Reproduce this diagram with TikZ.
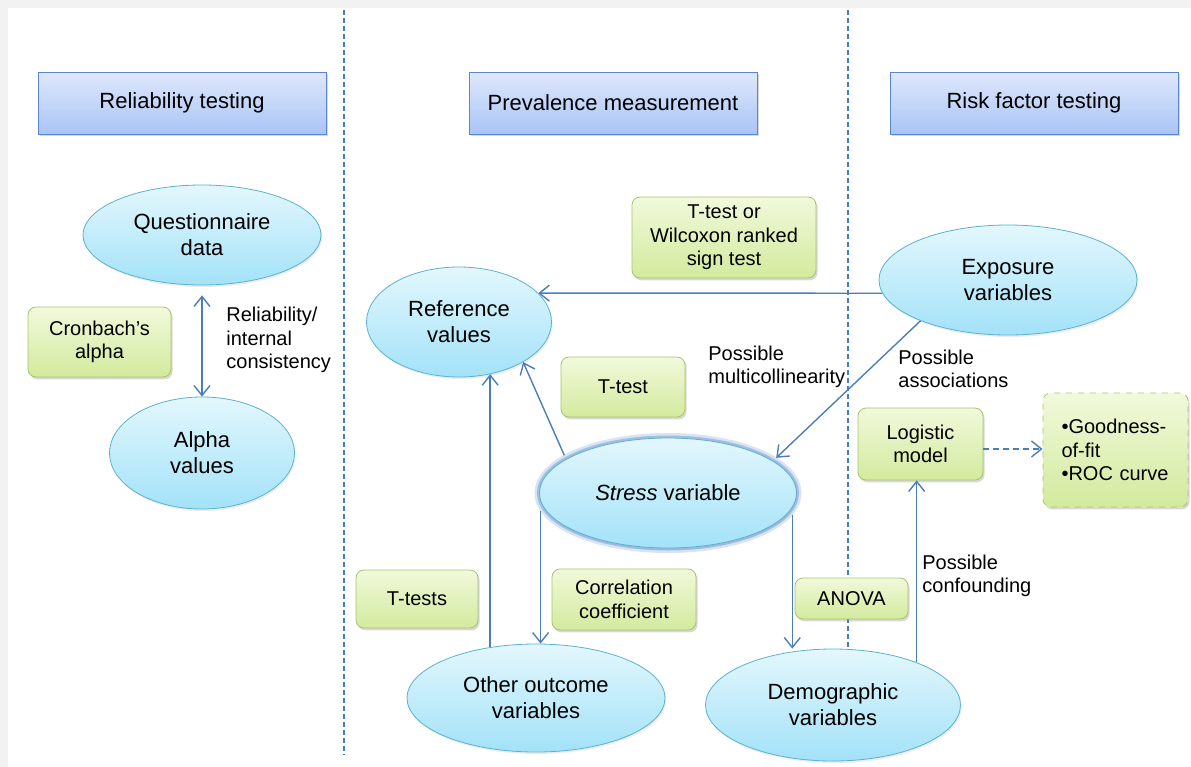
\documentclass[tikz,border=0pt]{standalone}
\usepackage{fontspec}
\setmainfont{Liberation Sans}
\usetikzlibrary{shapes.geometric,shadows,arrows.meta}

\definecolor{headtop}{HTML}{DFE8FC}
\definecolor{headbot}{HTML}{A9C4F6}
\definecolor{headline}{HTML}{5A86D0}
\definecolor{ovaltop}{HTML}{E3F7FD}
\definecolor{ovalbot}{HTML}{A3E2F8}
\definecolor{ovalline}{HTML}{5CB2CD}
\definecolor{grntop}{HTML}{F1F9DB}
\definecolor{grnbot}{HTML}{D3EA9D}
\definecolor{grnline}{HTML}{A6C46E}
\definecolor{linkblue}{HTML}{4A7EBB}
\definecolor{glowblue}{HTML}{7FA6D9}

\newcommand{\hdfont}{\fontsize{11}{13}\selectfont}
\newcommand{\lbfont}{\fontsize{10}{11.8}\selectfont}

\begin{document}
\begin{tikzpicture}[x=0.5pt,y=-0.5pt,
    >={Straight Barb[length=5pt,width=8pt]},
    head/.style={draw=headline, top color=headtop, bottom color=headbot,
      minimum width=144pt, minimum height=31pt, font=\hdfont,
      drop shadow={opacity=0.3, shadow xshift=0.8pt, shadow yshift=-1.2pt}},
    oval/.style={ellipse, draw=ovalline, top color=ovaltop, bottom color=ovalbot,
      align=center, inner sep=0pt, font=\hdfont,
      drop shadow={opacity=0.15, shadow xshift=0.6pt, shadow yshift=-1pt}},
    stressoval/.style={oval, outer sep=2.5pt,
      preaction={draw=glowblue, line width=5pt, draw opacity=0.3},
      preaction={draw=glowblue, line width=2.5pt, draw opacity=0.6}},
    testbox/.style={rounded corners=4pt, draw=grnline, top color=grntop,
      bottom color=grnbot, align=center, inner sep=2pt, font=\lbfont,
      drop shadow={opacity=0.3, shadow xshift=0.8pt, shadow yshift=-1.2pt}},
    note/.style={anchor=west, align=left, inner sep=0pt, font=\lbfont},
    link/.style={draw=linkblue, line width=0.7pt},
    sep/.style={draw=linkblue, line width=0.6pt, dash pattern=on 2.5pt off 1.5pt}]

  % Page
  \useasboundingbox (0,0) rectangle (1191,767);
  \fill[gray!10] (0,0) rectangle (1191,767);
  \fill[white] (8,8) rectangle (1191,767);

  % Column separators
  \draw[sep] (344,10) -- (344,755);
  \draw[sep] (848,10) -- (848,755);

  % Headers
  \node[head] (rel) at (182,103) {Reliability testing};
  \node[head] (prev) at (613,103) {Prevalence measurement};
  \node[head] (risk) at (1034,103) {Risk factor testing};

  % Variables
  \node[oval, minimum width=119pt, minimum height=50pt] (quest) at (202,235) {Questionnaire\\data};
  \node[oval, minimum width=92.5pt, minimum height=56pt] (alpha) at (202,453) {Alpha\\values};
  \node[oval, minimum width=92.5pt, minimum height=55pt] (refval) at (459,322) {Reference\\values};
  \node[oval, minimum width=129pt, minimum height=55pt] (expo) at (1008,280) {Exposure\\variables};
  \node[stressoval, minimum width=128.5pt, minimum height=55pt] (stress) at (668,493) {\textit{Stress} variable};
  \node[oval, minimum width=129pt, minimum height=54pt] (other) at (536,698) {Other outcome\\variables};
  \node[oval, minimum width=127.5pt, minimum height=56pt] (demo) at (833,705) {Demographic\\variables};

  % Tests
  \node[testbox, minimum width=71.5pt, minimum height=35pt] (cronb) at (99.5,342) {Cronbach's\\alpha};
  \node[testbox, minimum width=92pt, minimum height=40.5pt] (wilc) at (724,237.5) {T-test or\\Wilcoxon ranked\\sign test};
  \node[testbox, minimum width=62pt, minimum height=30pt] (ttest) at (623,387) {T-test};
  \node[testbox, minimum width=61pt, minimum height=29pt] (ttests) at (417,599) {T-tests};
  \node[testbox, minimum width=72pt, minimum height=30.5pt] (corr) at (624,599.5) {Correlation\\coefficient};
  \node[testbox, minimum width=56.5pt, minimum height=20.5pt] (anova) at (851.5,598.5) {ANOVA};
  \node[testbox, minimum width=62.5pt, minimum height=36pt] (logit) at (920.5,444) {Logistic\\model};
  \node[testbox, dashed, minimum width=72.5pt, minimum height=57pt, text width=54pt, align=left] (gof) at (1115.5,450)
    {\textbullet Goodness-\\of-fit\\\textbullet ROC curve};

  % Labels
  \node[note] (relnote) at (226,340) {Reliability/\\internal\\consistency};
  \node[note] (multnote) at (708,367) {Possible\\multicollinearity};
  \node[note] (assocnote) at (898,369) {Possible\\associations};
  \node[note] (confnote) at (922,576) {Possible\\confounding};

  % Connectors
  \draw[link, <->, shorten <=5pt] (quest) -- (alpha);
  \draw[link, ->] (expo.186) -- (refval.20);
  \draw[link, ->] (expo.205) -- (stress.18);
  \draw[link, ->] (stress.160) -- (refval.-32);
  \draw[link, ->] (other.132) -- (other.132 |- refval.-59);
  \draw[link, ->] (stress.188) -- (stress.188 |- other.north);
  \draw[link, ->] (stress.-10) -- (stress.-10 |- demo.north);
  \draw[link, ->] (demo.27) -- (demo.27 |- logit.south);
  \draw[link, ->, dash pattern=on 3pt off 2pt] ([yshift=-2.5pt]logit.east) -- ([yshift=-2.5pt]logit.east -| gof.west);
\end{tikzpicture}
\end{document}
